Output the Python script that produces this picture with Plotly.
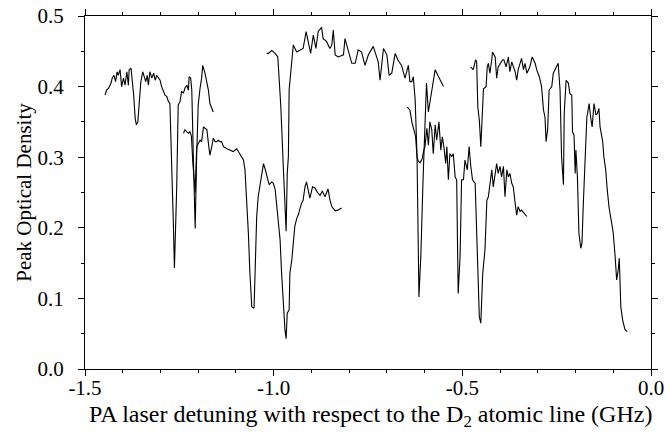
import plotly.graph_objects as go

# Segment A (upper-left trace)
a_x = [-1.447, -1.443, -1.437, -1.431, -1.428, -1.423, -1.419, -1.415, -1.412, -1.407,
       -1.403, -1.398, -1.394, -1.389, -1.385, -1.383, -1.378, -1.375, -1.371, -1.367,
       -1.364, -1.360, -1.357, -1.352, -1.347, -1.343, -1.339, -1.335, -1.332, -1.328,
       -1.323, -1.318, -1.314, -1.310, -1.306, -1.301, -1.297, -1.292, -1.288, -1.283,
       -1.279, -1.275, -1.272, -1.270, -1.266, -1.263, -1.260, -1.257, -1.253, -1.248,
       -1.244, -1.239, -1.235, -1.230, -1.226, -1.224, -1.220, -1.217, -1.213, -1.208,
       -1.204, -1.200, -1.195, -1.191, -1.188, -1.182, -1.173, -1.169, -1.160]
a_y = [0.388, 0.395, 0.398, 0.405, 0.412, 0.416, 0.407, 0.421, 0.416, 0.424,
       0.400, 0.412, 0.402, 0.421, 0.402, 0.424, 0.426, 0.412, 0.388, 0.355,
       0.346, 0.350, 0.369, 0.407, 0.421, 0.414, 0.407, 0.416, 0.402, 0.421,
       0.412, 0.419, 0.409, 0.416, 0.412, 0.409, 0.400, 0.393, 0.388, 0.386,
       0.379, 0.376, 0.327, 0.303, 0.209, 0.143, 0.190, 0.256, 0.374, 0.379,
       0.393, 0.391, 0.398, 0.402, 0.395, 0.414, 0.412, 0.395, 0.303, 0.199,
       0.303, 0.374, 0.398, 0.412, 0.430, 0.419, 0.395, 0.376, 0.364]

# Segment B (lower-left trace)
b_x = [-1.239, -1.235, -1.230, -1.226, -1.222, -1.218, -1.214, -1.208, -1.204, -1.200,
       -1.195, -1.191, -1.186, -1.182, -1.177, -1.173, -1.169, -1.164, -1.160, -1.155,
       -1.151, -1.147, -1.142, -1.138, -1.133, -1.124, -1.116, -1.107, -1.098, -1.091,
       -1.085, -1.080, -1.076, -1.071, -1.067, -1.063, -1.058, -1.052, -1.049, -1.045,
       -1.041, -1.036, -1.032, -1.027, -1.023, -1.018, -1.012, -1.005, -1.001, -0.996,
       -0.988, -0.983, -0.979, -0.974, -0.970, -0.967, -0.964, -0.959, -0.957, -0.952,
       -0.948, -0.944, -0.939, -0.935, -0.926, -0.922, -0.917, -0.913, -0.904, -0.897,
       -0.890, -0.884, -0.877, -0.871, -0.864, -0.856, -0.851, -0.846, -0.837, -0.830,
       -0.820]
b_y = [0.334, 0.339, 0.336, 0.334, 0.336, 0.330, 0.290, 0.250, 0.315, 0.320,
       0.324, 0.322, 0.343, 0.341, 0.339, 0.320, 0.303, 0.315, 0.327, 0.322,
       0.322, 0.324, 0.322, 0.322, 0.315, 0.312, 0.310, 0.308, 0.312, 0.305,
       0.301, 0.296, 0.282, 0.239, 0.192, 0.136, 0.088, 0.086, 0.136, 0.216,
       0.244, 0.263, 0.277, 0.291, 0.284, 0.272, 0.261, 0.265, 0.263, 0.254,
       0.216, 0.183, 0.136, 0.088, 0.055, 0.043, 0.079, 0.084, 0.136, 0.154,
       0.183, 0.202, 0.213, 0.218, 0.235, 0.239, 0.258, 0.265, 0.242, 0.258,
       0.256, 0.250, 0.246, 0.252, 0.244, 0.255, 0.240, 0.230, 0.224, 0.225,
       0.228]

# Segment C (upper-middle trace)
c_x = [-1.018, -1.014, -1.005, -0.996, -0.989, -0.981, -0.974, -0.967, -0.964, -0.961,
       -0.959, -0.952, -0.948, -0.939, -0.930, -0.922, -0.914, -0.908, -0.902, -0.895,
       -0.888, -0.882, -0.873, -0.869, -0.860, -0.851, -0.846, -0.842, -0.837, -0.829,
       -0.815, -0.811, -0.802, -0.793, -0.784, -0.776, -0.767, -0.758, -0.749, -0.736,
       -0.723, -0.718, -0.709, -0.700, -0.694, -0.687, -0.678, -0.670, -0.661, -0.652,
       -0.643, -0.639, -0.634, -0.630, -0.625, -0.620, -0.615, -0.610, -0.604, -0.599,
       -0.595, -0.590, -0.583, -0.572, -0.562, -0.550]
c_y = [0.447, 0.447, 0.451, 0.447, 0.442, 0.371, 0.280, 0.195, 0.277, 0.301,
       0.395, 0.438, 0.459, 0.449, 0.452, 0.454, 0.478, 0.464, 0.447, 0.473,
       0.454, 0.478, 0.484, 0.468, 0.464, 0.454, 0.459, 0.480, 0.445, 0.442,
       0.445, 0.468, 0.449, 0.433, 0.433, 0.452, 0.449, 0.430, 0.445, 0.457,
       0.435, 0.409, 0.454, 0.445, 0.416, 0.419, 0.447, 0.437, 0.430, 0.412,
       0.430, 0.407, 0.407, 0.414, 0.381, 0.300, 0.102, 0.160, 0.270, 0.360,
       0.405, 0.364, 0.390, 0.424, 0.413, 0.400]

# Segment D (lower-middle trace)
d_x = [-0.646, -0.639, -0.633, -0.628, -0.624, -0.620, -0.617, -0.612, -0.607, -0.602,
       -0.599, -0.594, -0.590, -0.586, -0.581, -0.577, -0.572, -0.568, -0.562, -0.557,
       -0.553, -0.549, -0.544, -0.541, -0.537, -0.533, -0.528, -0.524, -0.519, -0.515,
       -0.511, -0.506, -0.502, -0.497, -0.493, -0.487, -0.482, -0.478, -0.473, -0.466,
       -0.460, -0.455, -0.451, -0.446, -0.440, -0.435, -0.431, -0.427, -0.422, -0.418,
       -0.413, -0.409, -0.405, -0.400, -0.396, -0.391, -0.387, -0.382, -0.378, -0.374,
       -0.369, -0.365, -0.360, -0.356, -0.352, -0.347, -0.343, -0.337, -0.329]
d_y = [0.371, 0.367, 0.348, 0.339, 0.330, 0.300, 0.295, 0.292, 0.297, 0.310,
       0.315, 0.341, 0.317, 0.350, 0.339, 0.305, 0.346, 0.324, 0.350, 0.310,
       0.329, 0.315, 0.291, 0.315, 0.268, 0.305, 0.301, 0.305, 0.272, 0.268,
       0.107, 0.159, 0.268, 0.268, 0.296, 0.282, 0.315, 0.289, 0.268, 0.263,
       0.159, 0.074, 0.065, 0.135, 0.169, 0.239, 0.244, 0.258, 0.282, 0.258,
       0.277, 0.291, 0.277, 0.287, 0.272, 0.287, 0.244, 0.282, 0.272, 0.277,
       0.263, 0.258, 0.235, 0.218, 0.230, 0.223, 0.225, 0.221, 0.216]

# Segment E (right trace)
e_x = [-0.478, -0.471, -0.465, -0.462, -0.459, -0.455, -0.451, -0.449, -0.444, -0.437,
       -0.434, -0.431, -0.427, -0.422, -0.420, -0.413, -0.409, -0.405, -0.400, -0.393,
       -0.390, -0.384, -0.378, -0.374, -0.369, -0.365, -0.360, -0.356, -0.352, -0.343,
       -0.338, -0.334, -0.329, -0.321, -0.315, -0.307, -0.303, -0.296, -0.290, -0.285,
       -0.281, -0.278, -0.274, -0.270, -0.263, -0.259, -0.252, -0.246, -0.241, -0.237,
       -0.232, -0.230, -0.225, -0.219, -0.215, -0.210, -0.208, -0.204, -0.201, -0.199,
       -0.195, -0.191, -0.186, -0.183, -0.179, -0.175, -0.170, -0.168, -0.164, -0.160,
       -0.156, -0.151, -0.146, -0.142, -0.138, -0.135, -0.128, -0.125, -0.120, -0.116,
       -0.111, -0.104, -0.100, -0.095, -0.091, -0.087, -0.084, -0.080, -0.075, -0.069,
       -0.063]
e_y = [0.428, 0.424, 0.438, 0.435, 0.371, 0.353, 0.315, 0.343, 0.397, 0.400,
       0.428, 0.433, 0.419, 0.438, 0.449, 0.442, 0.412, 0.428, 0.433, 0.438,
       0.438, 0.428, 0.442, 0.421, 0.435, 0.428, 0.421, 0.409, 0.424, 0.440,
       0.424, 0.433, 0.419, 0.428, 0.442, 0.433, 0.424, 0.414, 0.400, 0.367,
       0.357, 0.322, 0.339, 0.395, 0.400, 0.419, 0.426, 0.433, 0.395, 0.300,
       0.261, 0.362, 0.409, 0.405, 0.390, 0.388, 0.336, 0.331, 0.277, 0.310,
       0.272, 0.192, 0.171, 0.178, 0.239, 0.296, 0.357, 0.362, 0.376, 0.357,
       0.343, 0.376, 0.360, 0.362, 0.369, 0.343, 0.322, 0.301, 0.282, 0.254,
       0.228, 0.206, 0.192, 0.159, 0.126, 0.140, 0.157, 0.088, 0.069, 0.056,
       0.053]

x_tickvals = [-1.5, -1.0, -0.5, 0.0]
x_ticktext = ["-1.5", "-1.0", "-0.5", "0.0"]
y_tickvals = [0.0, 0.1, 0.2, 0.3, 0.4, 0.5]
y_ticktext = ["0.0", "0.1", "0.2", "0.3", "0.4", "0.5"]
x_title = "PA laser detuning with respect to the D<sub>2</sub> atomic line (GHz)"
y_title = "Peak Optical Density"

fig = go.Figure()
for xs, ys in [(a_x, a_y), (b_x, b_y), (c_x, c_y), (d_x, d_y), (e_x, e_y)]:
    fig.add_trace(go.Scatter(x=xs, y=ys, mode="lines",
                             line=dict(color="black", width=1.1),
                             showlegend=False, hoverinfo="skip"))

serif = "Liberation Serif, Times New Roman, serif"
tick_font = dict(family=serif, size=21, color="black")
xtitle_font = dict(family=serif, size=24, color="black")
ytitle_font = dict(family=serif, size=21, color="black")
axis_common = dict(
    showline=True, linecolor="black", linewidth=1.2, mirror="allticks",
    ticks="outside", ticklen=6, tickwidth=1.2, tickcolor="black",
    showgrid=False, zeroline=False, tickfont=tick_font, automargin=False,
)
fig.update_xaxes(
    range=[-1.5, 0.0], tickmode="array", tickvals=x_tickvals, ticktext=x_ticktext,
    ticklabelstandoff=-6,
    minor=dict(tickmode="linear", tick0=-1.5, dtick=0.1, ticks="outside",
               ticklen=3, tickwidth=1, tickcolor="black"),
    **axis_common,
)
fig.update_yaxes(
    range=[0.0, 0.5], tickmode="array", tickvals=y_tickvals, ticktext=y_ticktext,
    ticklabelstandoff=10,
    minor=dict(tickmode="linear", tick0=0.0, dtick=0.05, ticks="outside",
               ticklen=3, tickwidth=1, tickcolor="black"),
    title=dict(text=y_title, font=ytitle_font, standoff=0),
    **axis_common,
)
fig.add_annotation(
    text=x_title, xref="paper", yref="paper", x=0.505, y=-0.133,
    xanchor="center", yanchor="middle", showarrow=False, font=xtitle_font,
)
fig.update_layout(
    width=665, height=439,
    margin=dict(l=85, r=14, t=16, b=70),
    paper_bgcolor="white", plot_bgcolor="white",
    font=tick_font,
)
fig.write_html("out.html")
